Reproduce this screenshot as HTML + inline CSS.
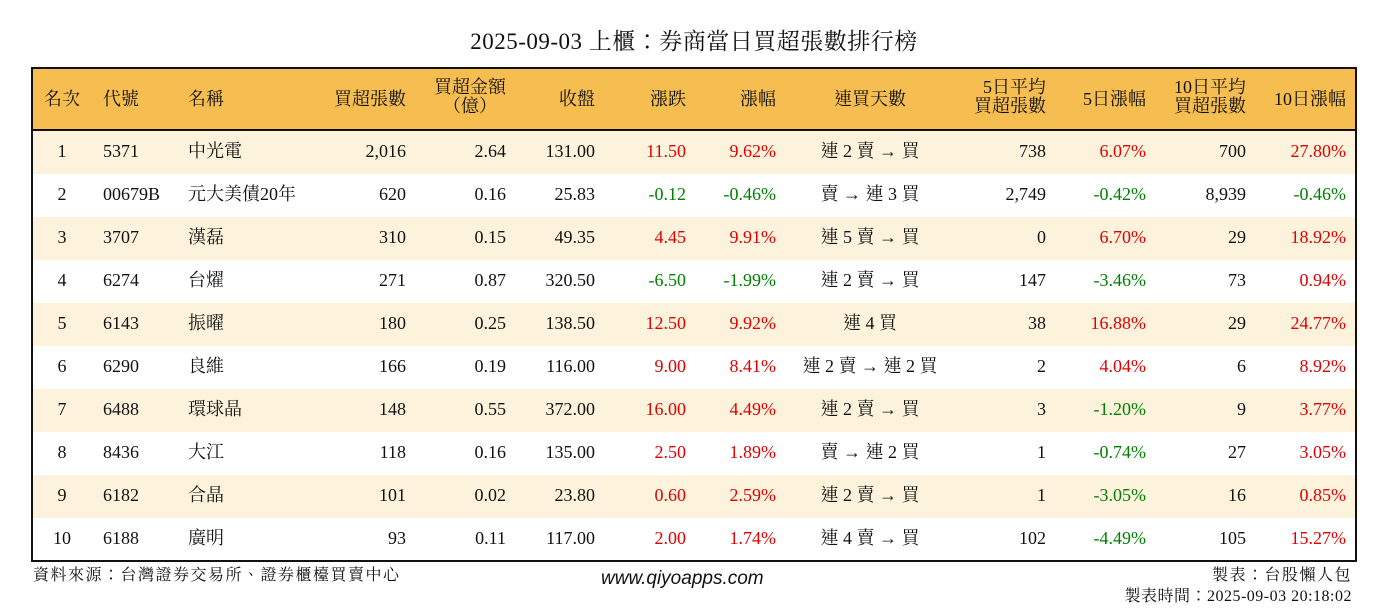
<!DOCTYPE html>
<html><head><meta charset="utf-8">
<style>
body{margin:0;width:1388px;height:612px;background:#fff;position:relative;overflow:hidden;font-family:"Liberation Serif","Noto Serif CJK TC","Noto Serif CJK SC",serif;color:#111}
.a{position:absolute;white-space:nowrap;line-height:1}
#box{position:absolute;left:31px;top:67px;width:1322px;height:491px;border:2px solid #111;overflow:hidden}
#hdr{position:absolute;left:0;top:0;width:1322px;height:60px;background:#F6BE50;border-bottom:2px solid #111}
.row{position:absolute;left:0;width:1322px;height:43px}
.t{font-size:18px}
.h{font-size:18px;text-align:center}
.r{color:#e00000}.g{color:#008000}
.f{font-family:"Liberation Serif","Noto Serif CJK TC",serif;font-size:16px}
</style></head><body>
<div class="a" style="left:0;width:1388px;text-align:center;top:30px;font-size:23px;letter-spacing:0.5px">2025-09-03 上櫃：券商當日買超張數排行榜</div>
<div id="box"><div id="hdr"></div></div>
<div class="a f" style="left:33px;top:568px;letter-spacing:1.5px">資料來源：台灣證券交易所、證券櫃檯買賣中心</div>
<div class="a" style="left:601px;top:569px;font-size:19px;font-style:italic;font-family:'Liberation Sans',sans-serif">www.qiyoapps.com</div>
<div class="a f" style="right:36px;top:568px;letter-spacing:1.5px">製表：台股懶人包</div>
<div class="a f" style="right:36px;top:589px;letter-spacing:0.5px">製表時間：2025-09-03 20:18:02</div>
<script>
const codes=["5371","00679B","3707","6274","6143","6290","6488","8436","6182","6188"];
const names=["中光電","元大美債20年","漢磊","台燿","振曜","良維","環球晶","大江","合晶","廣明"];
const netBuy=["2,016","620","310","271","180","166","148","118","101","93"];
const amount=["2.64","0.16","0.15","0.87","0.25","0.19","0.55","0.16","0.02","0.11"];
const closes=["131.00","25.83","49.35","320.50","138.50","116.00","372.00","135.00","23.80","117.00"];
const changes=["11.50","-0.12","4.45","-6.50","12.50","9.00","16.00","2.50","0.60","2.00"];
const pcts=["9.62%","-0.46%","9.91%","-1.99%","9.92%","8.41%","4.49%","1.89%","2.59%","1.74%"];
const streaks=["連 2 賣 → 買","賣 → 連 3 買","連 5 賣 → 買","連 2 賣 → 買","連 4 買","連 2 賣 → 連 2 買","連 2 賣 → 買","賣 → 連 2 買","連 2 賣 → 買","連 4 賣 → 買"];
const avg5=["738","2,749","0","147","38","2","3","1","1","102"];
const pct5=["6.07%","-0.42%","6.70%","-3.46%","16.88%","4.04%","-1.20%","-0.74%","-3.05%","-4.49%"];
const avg10=["700","8,939","29","73","29","6","9","27","16","105"];
const pct10=["27.80%","-0.46%","18.92%","0.94%","24.77%","8.92%","3.77%","3.05%","0.85%","15.27%"];
const box=document.getElementById('box');
function add(txt,cls,x,y,align,name){
  const d=document.createElement('div');
  d.className='a '+cls;d.textContent=txt;
  
  
  d.style.top=y+'px';
  if(align==='l')d.style.left=x+'px';
  else if(align==='r')d.style.right=(1322-x)+'px';
  else{d.style.left=(x-100)+'px';d.style.width='200px';d.style.textAlign='center';}
  box.appendChild(d);return d;
}
const heads=[["名次",29,'c'],["代號",70,'l'],["名稱",155,'l'],["買超張數",373,'r'],["買超金額\n（億）",437,'c'],["收盤",562,'r'],["漲跌",653,'r'],["漲幅",743,'r'],["連買天數",837,'c'],["5日平均\n買超張數",1013,'r'],["5日漲幅",1113,'r'],["10日平均\n買超張數",1213,'r'],["10日漲幅",1313,'r']];
heads.forEach(h=>{
  const two=h[0].includes('\n');
  const d=add(h[0],'h',h[1],two?9:21,h[2],'header-cell');
  d.style.whiteSpace='pre';d.style.lineHeight='19px';
  if(h[2]==='r')d.style.textAlign='right';
});
function cls(v){return v.startsWith('-')?'t g':'t r';}
for(let i=0;i<10;i++){
  const rw=document.createElement('div');rw.className='row';
  
  
  rw.style.top=(62+i*43)+'px';rw.style.background=i%2===0?'#FDF3DC':'#fff';
  box.appendChild(rw);
  const y=62+i*43+11;
  add(String(i+1),'t',29,y,'c','rank');
  add(codes[i],'t',70,y,'l','stock-code');
  add(names[i],'t',155,y,'l','stock-name');
  add(netBuy[i],'t',373,y,'r','net-buy-lots');
  add(amount[i],'t',473,y,'r','net-buy-amount');
  add(closes[i],'t',562,y,'r','close-price');
  add(changes[i],cls(changes[i]),653,y,'r','price-change');
  add(pcts[i],cls(pcts[i]),743,y,'r','change-pct');
  add(streaks[i],'t',837,y,'c','buy-streak');
  add(avg5[i],'t',1013,y,'r','avg5-net-buy');
  add(pct5[i],cls(pct5[i]),1113,y,'r','pct5');
  add(avg10[i],'t',1213,y,'r','avg10-net-buy');
  add(pct10[i],cls(pct10[i]),1313,y,'r','pct10');
}
</script>
</body></html>
